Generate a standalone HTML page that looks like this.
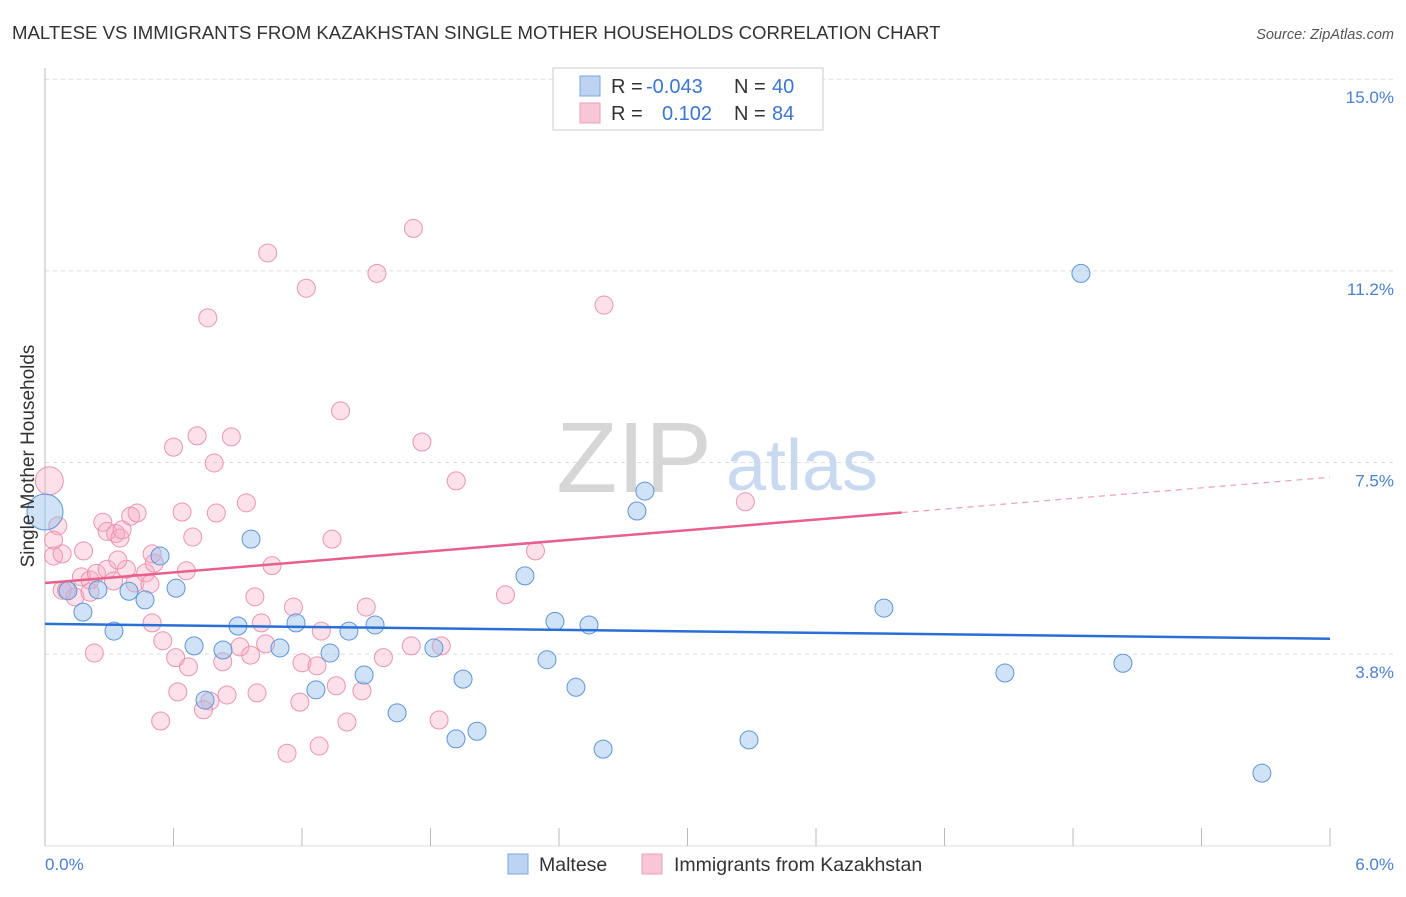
<!DOCTYPE html>
<html><head><meta charset="utf-8"><style>
body{margin:0;background:#fff;font-family:"Liberation Sans",sans-serif}
svg text{font-family:"Liberation Sans",sans-serif}
</style></head><body>
<svg id="c" width="1406" height="892" viewBox="0 0 1406 892">
<text x="12" y="39" font-size="18.6" fill="#333">MALTESE VS IMMIGRANTS FROM KAZAKHSTAN SINGLE MOTHER HOUSEHOLDS CORRELATION CHART</text>
<text x="1394" y="39" font-size="14.5" fill="#555" font-style="italic" text-anchor="end">Source: ZipAtlas.com</text>
<g id="grid"></g>
<text x="634" y="492" font-size="100" fill="#d6d6d6" font-family="Liberation Serif" text-anchor="middle">ZIP</text>
<text x="802" y="490" font-size="72" fill="#c9daf0" text-anchor="middle">atlas</text>
<g id="pts"></g>
<g id="lines"></g>
<text transform="translate(34,456) rotate(-90)" font-size="19" fill="#333" text-anchor="middle">Single Mother Households</text>
<text x="45" y="870" font-size="17" fill="#4a7fd0">0.0%</text>
<text x="1394" y="870" font-size="17" fill="#4a7fd0" text-anchor="end">6.0%</text>
<g>
<rect x="553" y="68" width="270" height="62" fill="#fff" stroke="#ccc"/>
<rect x="580" y="76" width="20" height="20" fill="#bcd4f2" stroke="#7aa6dc"/>
<rect x="580" y="103" width="20" height="20" fill="#f8c6d6" stroke="#e9a0b8"/>
<text x="611" y="93" font-size="20" fill="#333">R = </text><text x="646" y="93" font-size="20" fill="#3a76d0">-0.043</text>
<text x="734" y="93" font-size="20" fill="#333">N = </text><text x="772" y="93" font-size="20" fill="#3a76d0">40</text>
<text x="611" y="120" font-size="20" fill="#333">R = </text><text x="662" y="120" font-size="20" fill="#3a76d0">0.102</text>
<text x="734" y="120" font-size="20" fill="#333">N = </text><text x="772" y="120" font-size="20" fill="#3a76d0">84</text>
</g>
<g>
<rect x="508" y="854" width="20" height="20" fill="#bcd4f2" stroke="#7aa6dc"/>
<text x="539" y="871" font-size="19.5" fill="#333">Maltese</text>
<rect x="642" y="854" width="20" height="20" fill="#f8c6d6" stroke="#e9a0b8"/>
<text x="674" y="871" font-size="19.5" fill="#333">Immigrants from Kazakhstan</text>
</g>
</svg>
<script>
const yTicks=[3.75,7.5,11.25,15];
const yTickLabels=["3.8%","7.5%","11.2%","15.0%"];
const xTicks=[0,0.6,1.2,1.8,2.4,3.0,3.6,4.2,4.8,5.4,6.0];
const blueX=[0,0.107,0.177,0.247,0.322,0.392,0.467,0.537,0.612,0.696,0.747,0.831,0.901,0.962,1.097,1.172,1.265,1.331,1.419,1.49,1.541,1.644,1.816,1.919,1.952,2.017,2.241,2.344,2.381,2.479,2.54,2.606,2.764,2.801,3.287,3.917,4.482,4.837,5.033,5.682];
const blueY=[6.53,4.99,4.57,5.01,4.2,4.98,4.81,5.67,5.04,3.91,2.85,3.83,4.3,6.0,3.87,4.36,3.05,3.77,4.2,3.34,4.32,2.6,3.87,2.09,3.26,2.24,5.28,3.64,4.39,3.1,4.32,1.89,6.55,6.94,2.07,4.65,3.38,11.2,3.57,1.42];
const pinkX=[0.02,0.06,0.04,0.04,0.08,0.18,0.10,0.14,0.17,0.21,0.21,0.24,0.29,0.27,0.29,0.33,0.35,0.36,0.40,0.43,0.32,0.38,0.42,0.47,0.49,0.51,0.23,0.50,0.55,0.61,0.67,0.62,0.54,0.60,0.71,0.87,0.79,0.64,0.80,0.69,0.66,0.94,1.06,0.98,1.01,1.03,1.16,0.91,0.96,0.83,1.29,1.20,1.27,0.85,0.99,0.77,0.74,1.19,1.36,1.28,1.13,1.38,1.76,1.92,1.34,1.50,1.58,1.48,1.41,1.71,1.85,1.84,0.76,1.04,1.22,1.55,1.72,2.61,2.29,2.15,3.27,0.34,0.50,0.08];
const pinkY=[7.14,6.26,5.98,5.67,5.71,5.77,5.0,4.87,5.26,5.2,4.96,5.33,5.41,6.33,6.15,6.11,6.02,6.18,6.45,6.51,5.18,5.41,5.14,5.34,5.12,5.53,3.77,4.36,4.01,3.68,3.5,3.01,2.44,7.8,8.02,8.0,7.49,6.53,6.51,6.04,5.38,6.71,5.48,4.87,4.36,3.95,4.67,3.89,3.73,3.6,4.2,3.58,3.52,2.95,2.99,2.83,2.66,2.81,3.13,1.95,1.81,8.51,7.9,7.14,6.0,4.67,3.68,3.03,2.42,3.91,3.91,2.46,10.33,11.6,10.91,11.2,12.08,10.58,5.77,4.91,6.73,5.59,5.71,5.0];
const blueTrend=[4.34,4.05];
const pinkTrend=[5.14,7.21];
const pinkSolidEnd=4.0;
const NS="http://www.w3.org/2000/svg";
const X=v=>45+v*214.17, Y=v=>845.7-v*51.1;
function mk(tag,attrs,parent){const e=document.createElementNS(NS,tag);for(const k in attrs)e.setAttribute(k,attrs[k]);parent.appendChild(e);return e;}
const grid=document.getElementById('grid');
yTicks.forEach((t,i)=>{
 const l=mk('line',{x1:45,x2:1394,y1:Y(t),y2:Y(t),stroke:'#ddd','stroke-dasharray':'4,4'},grid);
 
 
 const tx=mk('text',{x:1394,y:Y(t)+24,'font-size':17,fill:'#4a7fd0','text-anchor':'end'},grid);
 tx.textContent=yTickLabels[i];
 
 
});
const ax=mk('line',{x1:45,x2:45,y1:68,y2:846,stroke:'#bbb'},grid);


const bx=mk('line',{x1:45,x2:1330,y1:846,y2:846,stroke:'#ddd'},grid);


xTicks.forEach(t=>{
 const l=mk('line',{x1:X(t),x2:X(t),y1:828,y2:846,stroke:'#bbb'},grid);
 
 
});
const pts=document.getElementById('pts');
pinkX.forEach((v,i)=>{
 const c=mk('circle',{cx:X(v),cy:Y(pinkY[i]),r:i===0?14:9,fill:'rgba(245,170,195,0.35)',stroke:'#ea95b0','stroke-width':1},pts);
 
 
});
blueX.forEach((v,i)=>{
 const c=mk('circle',{cx:X(v),cy:Y(blueY[i]),r:i===0?18:9,fill:'rgba(150,190,235,0.45)',stroke:'#5e95d8','stroke-width':1},pts);
 
 
});
const lines=document.getElementById('lines');
const bl=mk('line',{x1:X(0),y1:Y(blueTrend[0]),x2:X(6),y2:Y(blueTrend[1]),stroke:'#2a6fd6','stroke-width':2.5},lines);


const py=v=>pinkTrend[0]+(pinkTrend[1]-pinkTrend[0])*v/6;
const pl=mk('line',{x1:X(0),y1:Y(py(0)),x2:X(pinkSolidEnd),y2:Y(py(pinkSolidEnd)),stroke:'#e8608c','stroke-width':2.5},lines);


const pd=mk('line',{x1:X(pinkSolidEnd),y1:Y(py(pinkSolidEnd)),x2:X(6),y2:Y(py(6)),stroke:'#e8a0b8','stroke-width':1.2,'stroke-dasharray':'6,5'},lines);


</script>
</body></html>
